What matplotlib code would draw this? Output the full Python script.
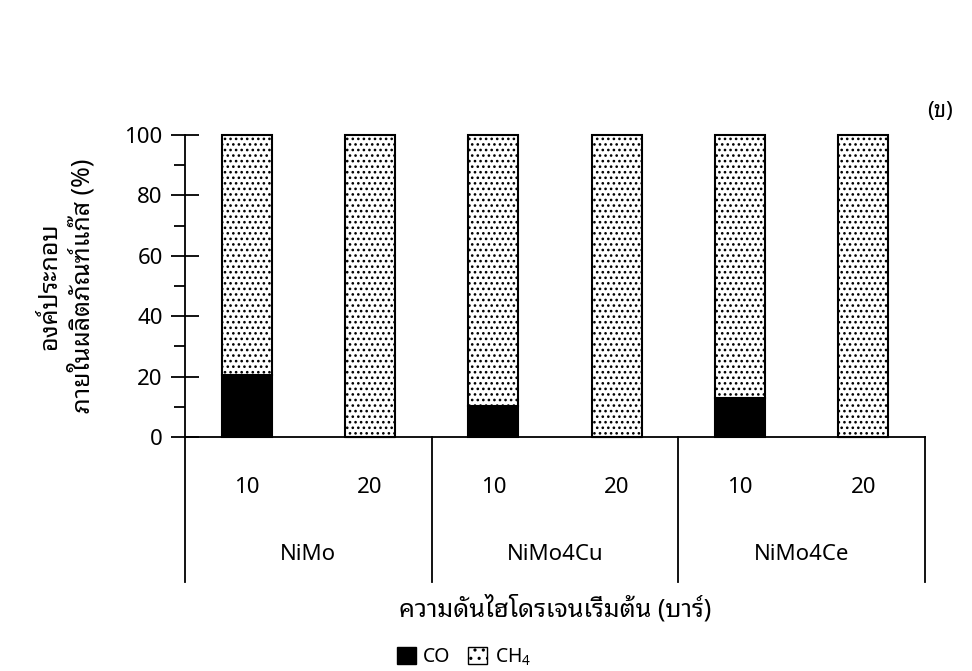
import matplotlib
matplotlib.use("Agg")
import matplotlib.pyplot as plt
from matplotlib.patches import Patch
import matplotlib.transforms as mtransforms
import numpy as np

plt.rcParams["font.family"] = ["Noto Sans Thai Looped", "Noto Sans", "DejaVu Sans"]
plt.rcParams["font.weight"] = 300
plt.rcParams["mathtext.default"] = "regular"
plt.rcParams["hatch.linewidth"] = 1.1

# Data
catalysts = ["NiMo", "NiMo4Cu", "NiMo4Ce"]
pressures = ["10", "20"]
co = [20.4, 0.0, 10.4, 0.0, 12.9, 0.0]
ch4 = [79.6, 100.0, 89.6, 100.0, 87.1, 100.0]
yticks = [0, 20, 40, 60, 80, 100]

FS = 16
FS_THAI = 18

fig = plt.figure(figsize=(9.72, 6.71), dpi=100)
ax = fig.add_axes([185 / 972, 1 - 437 / 671, 740 / 972, 302 / 671])

x = np.arange(len(co))
width = 0.405
ax.bar(x, co, width, color="black", edgecolor="black", linewidth=1.5,
       clip_on=False, zorder=3)
ax.bar(x, ch4, width, bottom=co, color="white", edgecolor="black",
       hatch="...", linewidth=1.5, clip_on=False, zorder=3)

ax.set_xlim(-0.5, len(co) - 0.5)
ax.set_ylim(0, 100)

for side in ("top", "right", "bottom"):
    ax.spines[side].set_visible(False)
ax.spines["left"].set_linewidth(1.3)
ax.axhline(0, color="black", lw=1.3, zorder=4, clip_on=False)

ax.set_yticks(yticks)
ax.set_yticks(np.arange(10, 100, 20), minor=True)
ax.tick_params(axis="y", which="major", direction="inout", length=20,
               width=1.3, labelsize=FS, pad=6)
ax.tick_params(axis="y", which="minor", direction="out", length=8,
               width=1.3)
ax.set_xticks([])

# Two-level category labels below the axis
trans = mtransforms.blended_transform_factory(ax.transData, ax.transAxes)
for i, xi in enumerate(x):
    ax.text(xi, -0.166, pressures[i % len(pressures)], transform=trans,
            ha="center", va="center", fontsize=FS)
for g, name in enumerate(catalysts):
    centre = g * len(pressures) + (len(pressures) - 1) / 2
    ax.text(centre, -0.39, name, transform=trans, ha="center",
            va="center", fontsize=FS)
for b in np.arange(-0.5, len(co), len(pressures)):
    ax.plot([b, b], [0, -0.48], transform=trans, color="black", lw=1.3,
            clip_on=False)

ax.text(0.5, -0.57, "ความดันไฮโดรเจนเริ่มต้น (บาร์)", transform=ax.transAxes,
        ha="center", va="center", fontsize=FS_THAI)

fig.text(50 / 972, 1 - 286 / 671, "องค์ประกอบ", rotation=90,
         ha="center", va="center", fontsize=FS_THAI)
fig.text(82 / 972, 1 - 286 / 671, "ภายในผลิตภัณฑ์แก๊ส (%)", rotation=90,
         ha="center", va="center", fontsize=FS_THAI)

fig.text(940 / 972, 1 - 112 / 671, "(ข)", ha="center", va="center",
         fontsize=FS)

handles = [Patch(facecolor="black", edgecolor="black"),
           Patch(facecolor="white", edgecolor="black", hatch="..")]
fig.legend(handles, ["CO", "CH$_4$"], loc="center",
           bbox_to_anchor=(464 / 972, 1 - 657 / 671), ncol=2, frameon=False,
           fontsize=14, handlelength=0.95, handleheight=0.95,
           handletextpad=0.4, columnspacing=0.9, borderpad=0.1)

fig.savefig("out.png", dpi=100)
